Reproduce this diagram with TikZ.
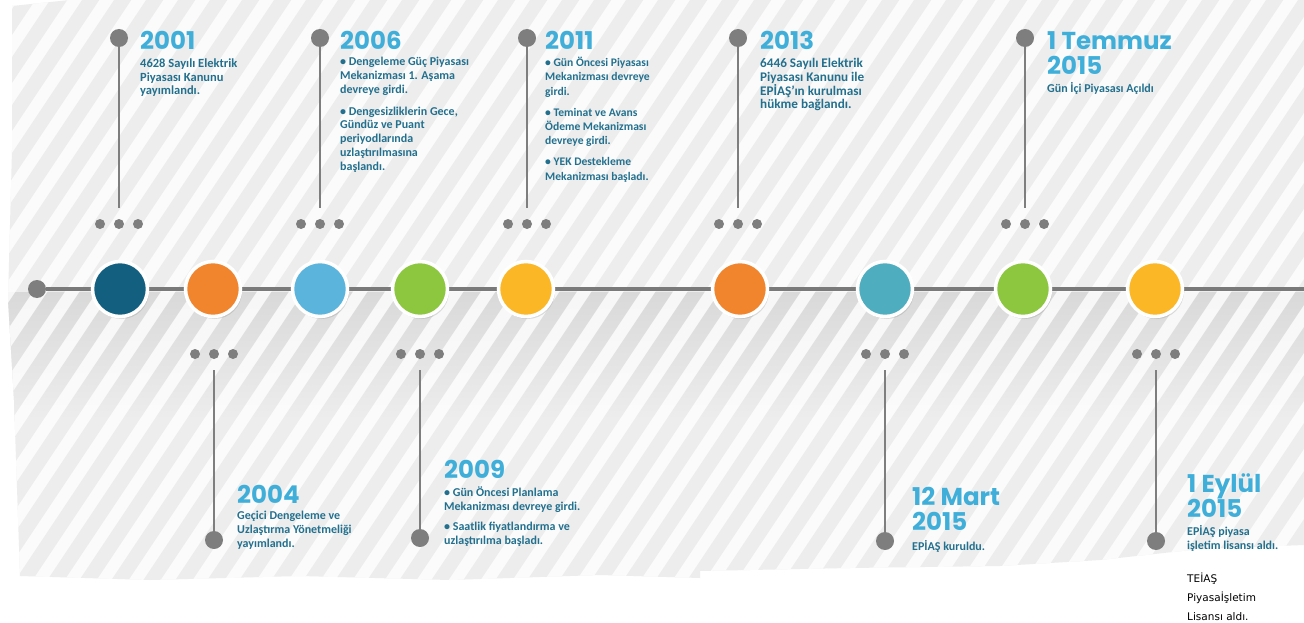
\documentclass[tikz,border=0pt]{standalone}
\usepackage{fontspec}
\setmainfont{Carlito}
\newfontfamily\yearfont{Poppins}
\newfontfamily\notefont{DejaVu Sans}
\usetikzlibrary{shadows}
\definecolor{bgcol}{HTML}{EDEDED}
\definecolor{bandtop}{HTML}{D9D9D9}
\definecolor{stemgray}{HTML}{7E7E7E}
\definecolor{linegray}{HTML}{7A7A7A}
\definecolor{yearcol}{HTML}{3FAFDA}
\definecolor{desccol}{HTML}{22708E}
\definecolor{cdblue}{HTML}{135F7F}
\definecolor{corange}{HTML}{F0852D}
\definecolor{clblue}{HTML}{5AB4DC}
\definecolor{cgreen}{HTML}{8DC63F}
\definecolor{cyellow}{HTML}{FBB726}
\definecolor{cteal}{HTML}{4EAEBF}
\tikzset{
  bigcirc/.style={circle, minimum size=55pt, inner sep=0, draw=white, line width=3.5pt,
    drop shadow={opacity=0.25, shadow xshift=1.5pt, shadow yshift=-2.5pt}},
  stemline/.style={draw=stemgray, line width=2.5pt},
  enddot/.style={circle, fill=stemgray, minimum size=18pt, inner sep=0},
  smalldot/.style={circle, fill=stemgray, minimum size=10pt, inner sep=0},
  yeartext/.style={font=\yearfont\bfseries\fontsize{24.5}{25}\selectfont, text=yearcol, anchor=base west, inner sep=0, align=left},
  desctext/.style={font=\bfseries\fontsize{12}{13.8}\selectfont, text=desccol, anchor=north west, inner sep=0, align=left},
  notetext/.style={font=\notefont\fontsize{10.5}{19}\selectfont, text=black, anchor=north west, inner sep=0, align=left}
}
\begin{document}
\begin{tikzpicture}[x=1pt,y=-1pt]
\useasboundingbox (0,0) rectangle (1304,623);
\fill[white] (0,0) rectangle (1304,623);
% background
\begin{scope}
  \clip (12,6) -- (70,0) -- (700,0) -- (700,578) -- (600,575) -- (450,580) -- (300,576) -- (150,580) -- (20,576) -- (14,400) -- (8,300) -- (12,150) -- cycle
        (700,0) -- (1304,0) -- (1304,545) -- (1200,549) -- (1100,560) -- (1000,566) -- (850,568) -- (700,571) -- cycle;
  \fill[bgcol] (0,0) rectangle (1304,623);
  \shade[top color=bandtop, bottom color=bgcol] (0,292) rectangle (1304,420);
  \foreach \i in {-25,...,45} {
    \draw[white, line width=12pt, opacity=0.8] (\i*32,640) -- ++(440,-660);
  }
\end{scope}
% main line
\node[enddot] (start) at (37,289) {};
\coordinate (lineend) at (1304,289);
\draw[draw=linegray, line width=4pt] (start) -- (lineend);
% circles
\node[bigcirc, fill=cdblue]  (c2001) at (120,289) {};
\node[bigcirc, fill=corange] (c2004) at (213,289) {};
\node[bigcirc, fill=clblue]  (c2006) at (320,289) {};
\node[bigcirc, fill=cgreen]  (c2009) at (420,289) {};
\node[bigcirc, fill=cyellow] (c2011) at (526,289) {};
\node[bigcirc, fill=corange] (c2013) at (740,289) {};
\node[bigcirc, fill=cteal]   (c2015a) at (885,289) {};
\node[bigcirc, fill=cgreen]  (c2015b) at (1023,289) {};
\node[bigcirc, fill=cyellow] (c2015c) at (1155,289) {};
% top stems
\foreach \n/\x in {a/119,b/320,c/527,d/738,e/1025} {
  \node[enddot] (t\n) at (\x,38) {};
  \coordinate (s\n) at (\x,208);
  \draw[stemline] (t\n) -- (s\n);
  \node[smalldot] (l\n) at (\x-19,224) {};
  \node[smalldot] (m\n) at (\x,224) {};
  \node[smalldot] (r\n) at (\x+19,224) {};
}
% bottom stems
\foreach \n/\x/\yb in {f/214/540,g/420/538,h/885/541,i/1156/541} {
  \node[enddot] (b\n) at (\x,\yb) {};
  \coordinate (u\n) at (\x,370);
  \draw[stemline] (u\n) -- (b\n);
  \node[smalldot] (bl\n) at (\x-19,354) {};
  \node[smalldot] (bm\n) at (\x,354) {};
  \node[smalldot] (br\n) at (\x+19,354) {};
}
% texts top
\node[yeartext] (y2001) at (140,50) {2001};
\node[desctext, font=\bfseries\fontsize{12.5}{13.2}\selectfont] (d2001) at (140,59) {4628 Sayılı Elektrik\\Piyasası Kanunu\\yayımlandı.};
\node[yeartext] (y2006) at (340,50) {2006};
\node[desctext] (d2006) at (340,57) {• Dengeleme Güç Piyasası\\Mekanizması 1. Aşama\\devreye girdi.\\[8pt]• Dengesizliklerin Gece,\\Gündüz ve Puant\\periyodlarında\\uzlaştırılmasına\\başlandı.};
\node[yeartext] (y2011) at (545,50) {2011};
\node[desctext, font=\bfseries\fontsize{11.6}{14.2}\selectfont] (d2011) at (545,57) {• Gün Öncesi Piyasası\\Mekanizması devreye\\girdi.\\[7pt]• Teminat ve Avans\\Ödeme Mekanizması\\devreye girdi.\\[7pt]• YEK Destekleme\\Mekanizması başladı.};
\node[yeartext] (y2013) at (760,50) {2013};
\node[desctext, font=\bfseries\fontsize{13.2}{13.8}\selectfont] (d2013) at (760,58) {6446 Sayılı Elektrik\\Piyasası Kanunu ile\\EPİAŞ’ın kurulması\\hükme bağlandı.};
\node[yeartext] (y2015b) at (1047,75) {1 Temmuz\\2015};
\node[desctext] (d2015b) at (1047,82) {Gün İçi Piyasası Açıldı};
% texts bottom
\node[yeartext] (y2004) at (237,503) {2004};
\node[desctext] (d2004) at (237,511) {Geçici Dengeleme ve\\Uzlaştırma Yönetmeliği\\yayımlandı.};
\node[yeartext] (y2009) at (444,478) {2009};
\node[desctext] (d2009) at (444,487) {• Gün Öncesi Planlama\\Mekanizması devreye girdi.\\[6pt]• Saatlik fiyatlandırma ve\\uzlaştırılma başladı.};
\node[yeartext] (y2015a) at (912,530) {12 Mart\\2015};
\node[desctext] (d2015a) at (912,540) {EPİAŞ kuruldu.};
\node[yeartext] (y2015c) at (1187,517) {1 Eylül\\2015};
\node[desctext] (d2015c) at (1187,525) {EPİAŞ piyasa\\işletim lisansı aldı.};
\node[notetext] (note) at (1187,573) {TEİAŞ\\Piyasaİşletim\\Lisansı aldı.};
\end{tikzpicture}
\end{document}
